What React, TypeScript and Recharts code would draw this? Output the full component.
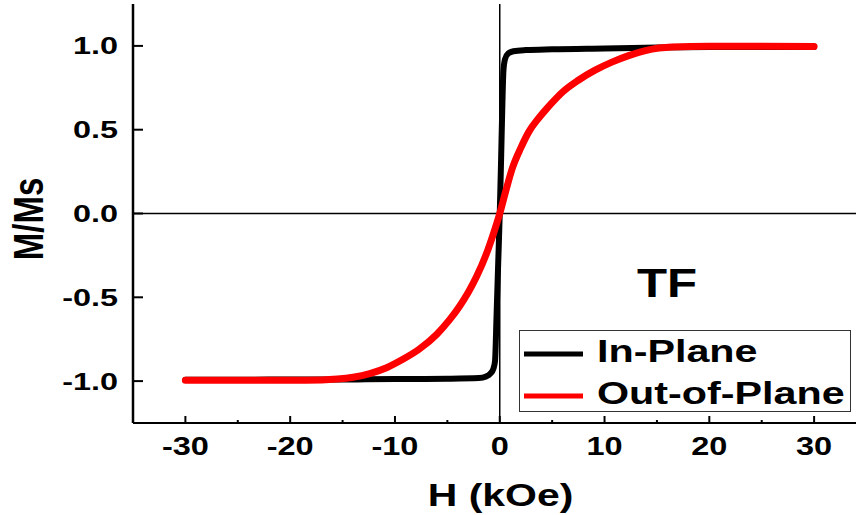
import { type FC } from 'react';
import { Customized, Legend, Line, LineChart, ReferenceLine, XAxis, YAxis } from 'recharts';

const inPlaneH = [-30, -25, -20, -15, -10, -5, -2, -1.3, -0.9, -0.6, -0.45, -0.3, -0.15, 0, 0.12, 0.25, 0.35, 0.5, 0.8, 1.3, 2.5, 5, 10, 15, 20, 25, 30];
const inPlaneM = [-0.992, -0.992, -0.99, -0.99, -0.988, -0.986, -0.982, -0.972, -0.955, -0.925, -0.88, -0.6, -0.3, 0, 0.3, 0.65, 0.85, 0.92, 0.955, 0.968, 0.975, 0.98, 0.985, 0.99, 0.993, 0.994, 0.994];

const outPlaneH = [-30, -25, -20, -17, -15.5, -14, -12.4, -10.8, -9.25, -7.7, -6, -4.8, -3.8, -3, -2.2, -1.3, -0.6, 0, 0.6, 1.2, 2, 2.8, 3.6, 4.4, 5.2, 6, 7.5, 9.1, 10.7, 12.3, 13.9, 15.2, 16.4, 20, 25, 30];
const outPlaneM = [-0.995, -0.995, -0.995, -0.993, -0.988, -0.977, -0.955, -0.92, -0.87, -0.81, -0.72, -0.635, -0.55, -0.47, -0.375, -0.245, -0.12, 0, 0.14, 0.27, 0.39, 0.49, 0.56, 0.62, 0.675, 0.725, 0.795, 0.855, 0.903, 0.942, 0.972, 0.987, 0.994, 0.998, 0.998, 0.997];

const xTicks = [-30, -25, -20, -15, -10, -5, 0, 5, 10, 15, 20, 25, 30];
const yTicks = [-1, -0.5, 0, 0.5, 1];

const inPlane = inPlaneH.map((h, i) => ({ h, m: inPlaneM[i] }));
const outPlane = outPlaneH.map((h, i) => ({ h, m: outPlaneM[i] }));

const font = '"Liberation Sans", Arial, sans-serif';

// the source figure is stretched sideways, so text gets a horizontal scale
const Stretch: FC<{ x: number; y: number; sx: number; size: number; anchor?: string; rotate?: boolean; children: any }> = ({
  x,
  y,
  sx,
  size,
  anchor = 'middle',
  rotate,
  children
}) => (
  <text
    transform={`translate(${x},${y}) scale(${sx},1)${rotate ? ' rotate(-90)' : ''}`}
    textAnchor={anchor}
    fontFamily={font}
    fontWeight="bold"
    fontSize={size}
    fill="#000"
  >
    {children}
  </text>
);

const BottomTick = ({ x, y, payload }: any) => {
  const v = Number(payload.value);
  const major = v % 10 === 0;
  return (
    <g>
      <line x1={x} x2={x} y1={y} y2={y - (major ? 7 : 3)} stroke="#000" strokeWidth={2} />
      {major && (
        <Stretch x={x} y={y + 32} sx={1.3} size={25}>
          {String(v)}
        </Stretch>
      )}
    </g>
  );
};

const TopTick = ({ x, y, payload }: any) => {
  const major = Number(payload.value) % 10 === 0;
  return <line x1={x} x2={x} y1={y} y2={y + (major ? 3 : 2)} stroke="#000" strokeWidth={1.5} />;
};

const LeftTick = ({ x, y, payload }: any) => (
  <g>
    <line x1={x} x2={x + 10} y1={y} y2={y} stroke="#000" strokeWidth={2} />
    <Stretch x={x - 15} y={y + 8.5} sx={1.35} size={24} anchor="end">
      {Number(payload.value).toFixed(1)}
    </Stretch>
  </g>
);

const renderLegend = ({ payload }: any) => (
  <svg width={332} height={82} style={{ display: 'block' }}>
    <rect x={0.5} y={0.5} width={331} height={81} fill="#fff" stroke="#333" strokeWidth={1} />
    {(payload || []).map((p: any, i: number) => (
      <g key={p.value}>
        <line x1={5} x2={64} y1={24 + 42 * i} y2={24 + 42 * i} stroke={p.color} strokeWidth={5} />
        <Stretch x={78} y={32 + 42 * i} sx={1.29} size={32} anchor="start">
          {p.value}
        </Stretch>
      </g>
    ))}
  </svg>
);

const SampleTag = () => (
  <Stretch x={667} y={297} sx={1.2} size={41}>
    TF
  </Stretch>
);

export default function App() {
  return (
    <div style={{ position: 'absolute', left: 0, top: 0, width: 856, height: 515, overflow: 'hidden', background: '#fff' }}>
      <LineChart width={880} height={515} margin={{ top: 4, right: 13.5, left: 0, bottom: 0 }}>
        <XAxis
          type="number"
          dataKey="h"
          domain={[-35, 35]}
          ticks={xTicks}
          interval={0}
          height={92}
          tickSize={0}
          tickMargin={0}
          tickLine={false}
          axisLine={{ stroke: '#000', strokeWidth: 2 }}
          tick={<BottomTick />}
          allowDataOverflow
          label={{ content: () => <Stretch x={500.5} y={506} sx={1.28} size={32}>H (kOe)</Stretch> }}
        />
        <XAxis
          xAxisId="top"
          orientation="top"
          type="number"
          dataKey="h"
          domain={[-35, 35]}
          ticks={xTicks}
          interval={0}
          height={0}
          tickSize={0}
          tickMargin={0}
          tickLine={false}
          axisLine={{ stroke: '#000', strokeWidth: 2 }}
          tick={<TopTick />}
          allowDataOverflow
        />
        <YAxis
          type="number"
          dataKey="m"
          domain={[-1.25, 1.25]}
          ticks={yTicks}
          interval={0}
          width={133}
          tickSize={0}
          tickMargin={0}
          tickLine={false}
          axisLine={{ stroke: '#000', strokeWidth: 2.5 }}
          tick={<LeftTick />}
          allowDataOverflow
          label={{ content: () => <Stretch x={43} y={219} sx={1.3} size={33} rotate>M/Ms</Stretch> }}
        />
        <ReferenceLine x={0} stroke="#000" strokeWidth={1.5} />
        <ReferenceLine y={0} stroke="#000" strokeWidth={1.5} />
        <Legend
          layout="vertical"
          align="center"
          verticalAlign="middle"
          content={renderLegend}
          wrapperStyle={{ left: 519, top: 330, width: 332, height: 82 }}
        />
        <Line
          data={inPlane}
          dataKey="m"
          name="In-Plane"
          type="monotone"
          stroke="#000"
          strokeWidth={6}
          strokeLinecap="round"
          dot={false}
          legendType="line"
          isAnimationActive={false}
        />
        <Line
          data={outPlane}
          dataKey="m"
          name="Out-of-Plane"
          type="monotone"
          stroke="#ff0000"
          strokeWidth={7}
          strokeLinecap="round"
          dot={false}
          legendType="line"
          isAnimationActive={false}
        />
        <Customized component={SampleTag} />
      </LineChart>
    </div>
  );
}
